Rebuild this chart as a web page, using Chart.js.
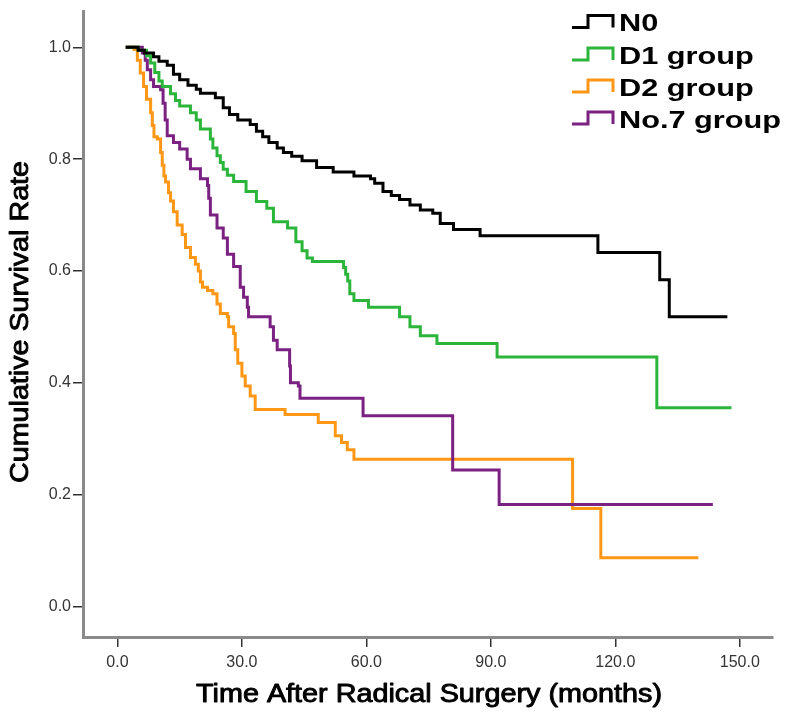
<!DOCTYPE html>
<html>
<head>
<meta charset="utf-8">
<script src="https://cdn.jsdelivr.net/npm/chart.js@4.4.1/dist/chart.umd.min.js"></script>
<style>
  html, body { margin: 0; padding: 0; background: #ffffff; }
  #wrap { width: 794px; height: 713px; position: relative; }
</style>
</head>
<body>
<div id="wrap"><canvas id="c" width="794" height="713"></canvas></div>
<script>
// ---- Data ----
const seriesNames = ["N0", "D1 group", "D2 group", "No.7 group"];
const seriesColors = ["#000000", "#2cb53b", "#ff9716", "#7a2182"];
const drawOrder = [0, 1, 3, 2]; // lower = drawn on top

const n0Time = [2,5,6.5,8.7,10,12,13.5,15,17,19,20,23.6,25.5,27,29,32,33.5,35,36.5,38.5,40,42,44.5,48,52,57,61,62,64,66,68,70.5,73,76,77.8,81,87.4,115.8,130.7,133,147];
const n0Surv = [1.0,0.995,0.99,0.983,0.975,0.968,0.952,0.942,0.932,0.925,0.918,0.91,0.892,0.88,0.87,0.862,0.85,0.84,0.83,0.82,0.812,0.805,0.797,0.785,0.777,0.77,0.765,0.757,0.742,0.735,0.728,0.718,0.709,0.703,0.685,0.674,0.663,0.633,0.584,0.518,0.518];

const d1Time = [2,5,7,8,9,10,10.8,12.8,14,15,17.6,19,20,22.4,23,24,24.8,25.5,26.5,28,31,33.5,36,37.6,41,43,44.5,45.7,47,54.5,55,55.5,56,57,60.5,68,70.5,73,77,91.5,130,148];
const d1Surv = [1.0,0.995,0.985,0.972,0.955,0.94,0.93,0.917,0.905,0.895,0.883,0.87,0.854,0.836,0.82,0.806,0.794,0.782,0.771,0.76,0.742,0.724,0.712,0.688,0.677,0.652,0.636,0.623,0.617,0.606,0.594,0.582,0.559,0.547,0.535,0.518,0.5,0.484,0.47,0.446,0.355,0.355];

const d2Time = [2,4,4.8,5.5,6.3,7,8,8.4,8.8,9.6,10.4,10.8,11.2,11.6,12.3,12.8,13.5,14.4,15.6,16.4,17.6,18.8,19.5,20,20.5,21.7,23,24,24.8,26.5,26.8,28,28.4,29,30,30.8,32,33.2,40.4,48.4,52.5,54,55.4,57,109.7,116.5,140];
const d2Surv = [1.0,0.996,0.977,0.954,0.93,0.907,0.883,0.86,0.84,0.836,0.812,0.789,0.77,0.759,0.74,0.725,0.706,0.682,0.665,0.642,0.624,0.612,0.6,0.58,0.571,0.565,0.559,0.541,0.524,0.518,0.5,0.488,0.459,0.435,0.412,0.394,0.376,0.352,0.343,0.329,0.305,0.293,0.28,0.263,0.175,0.087,0.087];

const n7Time = [2,6,6.7,7.2,8,8.7,10.4,11,11.5,12,13.5,15,16.8,17.6,20,21.7,22,22.4,24,25.5,26.5,28,29.6,30.4,31.3,31.6,36.8,37.6,38.5,41.5,41.7,43.6,44,59.2,80.8,92,143.5];
const n7Surv = [1.0,0.99,0.977,0.96,0.942,0.93,0.924,0.9,0.87,0.842,0.83,0.818,0.8,0.783,0.765,0.753,0.73,0.7,0.677,0.659,0.63,0.608,0.571,0.553,0.535,0.518,0.5,0.476,0.459,0.43,0.4,0.394,0.372,0.341,0.244,0.182,0.182];

const xTicks = [0, 30, 60, 90, 120, 150];
const yTicks = [0, 0.2, 0.4, 0.6, 0.8, 1.0];
const xTitle = "Time After Radical Surgery (months)";
const yTitle = "Cumulative Survival Rate";

// ---- Build datasets ----
function pts(t, s) { return t.map((v, i) => ({ x: v, y: s[i] })); }
const allSeries = [pts(n0Time, n0Surv), pts(d1Time, d1Surv), pts(d2Time, d2Surv), pts(n7Time, n7Surv)];
const datasets = allSeries.map((d, i) => ({
  label: seriesNames[i],
  data: d,
  borderColor: seriesColors[i],
  backgroundColor: seriesColors[i],
  borderWidth: 3,
  stepped: true,
  pointRadius: 0,
  fill: false,
  tension: 0,
  order: drawOrder[i]
}));

const FONT = "'Liberation Sans', Arial, sans-serif";

function stretchText(ctx, text, x, y, font, targetW, rot, align, strokeW) {
  ctx.save();
  ctx.font = font;
  const w = ctx.measureText(text).width;
  const sx = targetW > 0 ? targetW / w : 1;
  ctx.translate(x, y);
  if (rot) ctx.rotate(rot);
  ctx.scale(sx, 1);
  ctx.textAlign = align || 'center';
  ctx.textBaseline = 'middle';
  ctx.fillStyle = '#000';
  ctx.fillText(text, 0, 0);
  if (strokeW) {
    ctx.strokeStyle = '#000';
    ctx.lineWidth = strokeW;
    ctx.lineJoin = 'round';
    ctx.strokeText(text, 0, 0);
  }
  ctx.restore();
}

const textPlugin = {
  id: 'textPlugin',
  afterDraw(chart) {
    const ctx = chart.ctx;
    // axis titles
    stretchText(ctx, xTitle, 429, 695, "25px " + FONT, 466, 0, 'center', 0.9);
    stretchText(ctx, yTitle, 21, 322, "26px " + FONT, 322, -Math.PI / 2, 'center', 0.9);
    // legend
    const rows = [23.5, 56, 88, 120];
    seriesNames.forEach((name, i) => {
      const c = rows[i];
      ctx.save();
      ctx.strokeStyle = seriesColors[i];
      ctx.lineWidth = 3;
      ctx.lineJoin = 'miter';
      ctx.beginPath();
      ctx.moveTo(572, c + 4);
      ctx.lineTo(588, c + 4);
      ctx.lineTo(588, c - 8);
      ctx.lineTo(613, c - 8);
      ctx.lineTo(613, c + 4);
      ctx.stroke();
      ctx.restore();
      ctx.save();
      ctx.font = "bold 24px " + FONT;
      ctx.translate(619, c + 1);
      ctx.scale(1.28, 1);
      ctx.textAlign = 'left';
      ctx.textBaseline = 'middle';
      ctx.fillStyle = '#000';
      ctx.fillText(name, 0, 0);
      ctx.restore();
    });
  }
};

const ctx = document.getElementById('c').getContext('2d');
new Chart(ctx, {
  type: 'line',
  data: { datasets: datasets },
  options: {
    responsive: false,
    animation: false,
    devicePixelRatio: 1,
    layout: { padding: { top: 5, right: 21, left: 0, bottom: 0 } },
    plugins: { legend: { display: false }, tooltip: { enabled: false } },
    scales: {
      x: {
        type: 'linear',
        min: -8.3,
        max: 158,
        afterBuildTicks(scale) { scale.ticks = xTicks.map(v => ({ value: v })); },
        afterFit(scale) { scale.height = 76; },
        ticks: {
          font: { size: 16, family: FONT },
          color: '#333',
          padding: 6,
          maxRotation: 0,
          autoSkip: false,
          callback: (v) => Number(v).toFixed(1)
        },
        grid: { display: true, drawOnChartArea: false, drawTicks: true, tickLength: 10, color: '#333', lineWidth: 1.5 },
        border: { display: true, color: '#8a8a8a', width: 3 }
      },
      y: {
        type: 'linear',
        min: -0.055,
        max: 1.064,
        afterBuildTicks(scale) { scale.ticks = yTicks.map(v => ({ value: v })); },
        afterFit(scale) { scale.width = 83; },
        ticks: {
          font: { size: 16, family: FONT },
          color: '#333',
          padding: 2,
          autoSkip: false,
          callback: (v) => Number(v).toFixed(1)
        },
        grid: { display: true, drawOnChartArea: false, drawTicks: true, tickLength: 10, color: '#333', lineWidth: 1.5 },
        border: { display: true, color: '#8a8a8a', width: 3 }
      }
    }
  },
  plugins: [textPlugin]
});
</script>
</body>
</html>
